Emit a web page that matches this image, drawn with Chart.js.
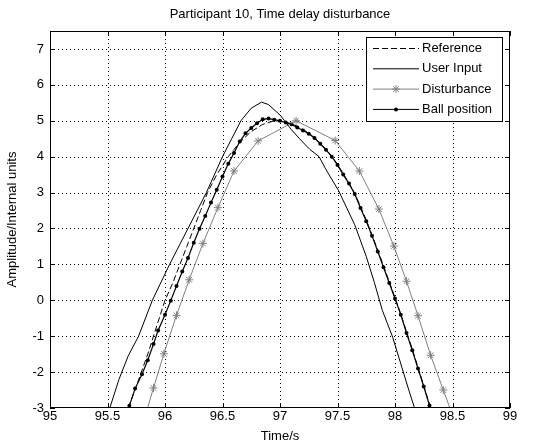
<!DOCTYPE html>
<html>
<head>
<meta charset="utf-8">
<script src="https://cdn.jsdelivr.net/npm/chart.js@4/dist/chart.umd.min.js"></script>
<style>
  html, body { margin: 0; padding: 0; background: #fff; }
  #wrap { width: 542px; height: 444px; }
</style>
</head>
<body>
<div id="wrap"><canvas id="chart" width="542" height="444"></canvas></div>
<script>
const xTicks = [95, 95.5, 96, 96.5, 97, 97.5, 98, 98.5, 99];
const yTicks = [-3, -2, -1, 0, 1, 2, 3, 4, 5, 6, 7];

const seriesNames = ['Reference', 'User Input', 'Disturbance', 'Ball position'];

const refTime = [95.68, 95.75, 95.85, 95.93, 96.0, 96.07, 96.13, 96.19, 96.25, 96.31, 96.37, 96.45, 96.55, 96.65, 96.75, 96.85, 96.95, 97.05, 97.15, 97.25, 97.35, 97.45, 97.55, 97.65, 97.75, 97.85, 97.95, 98.05, 98.15, 98.25, 98.31];
const refValue = [-3.0, -2.4, -1.5, -0.7, 0.0, 0.5, 1.0, 1.5, 2.0, 2.5, 3.0, 3.5, 4.0, 4.4, 4.7, 4.9, 5.0, 4.97, 4.85, 4.66, 4.38, 4.02, 3.53, 2.98, 2.24, 1.4, 0.52, -0.38, -1.36, -2.38, -3.0];

const userTime = [95.5, 95.6, 95.68, 95.77, 95.89, 96.04, 96.2, 96.36, 96.5, 96.58, 96.66, 96.75, 96.84, 96.9, 97.0, 97.04, 97.1, 97.17, 97.26, 97.34, 97.4, 97.51, 97.65, 97.75, 97.82, 97.89, 97.98, 98.06, 98.12, 98.19];
const userValue = [-3.2, -2.2, -1.55, -1.0, 0.0, 1.0, 2.0, 3.0, 4.0, 4.5, 5.0, 5.35, 5.52, 5.45, 5.16, 5.0, 4.75, 4.5, 4.2, 4.0, 3.64, 3.05, 2.1, 1.22, 0.5, -0.28, -1.03, -1.87, -2.5, -3.2];

const distTime = [95.83, 95.9, 95.99, 96.1, 96.21, 96.33, 96.46, 96.6, 96.81, 97.14, 97.48, 97.69, 97.86, 97.99, 98.1, 98.2, 98.31, 98.42, 98.5];
const distValue = [-3.2, -2.44, -1.49, -0.42, 0.57, 1.58, 2.58, 3.6, 4.44, 5.0, 4.45, 3.6, 2.54, 1.51, 0.53, -0.43, -1.53, -2.5, -3.2];

const ballTime = [95.66, 95.69, 95.74, 95.8, 95.85, 95.9, 95.94, 96.0, 96.05, 96.1, 96.15, 96.2, 96.25, 96.3, 96.35, 96.4, 96.45, 96.5, 96.55, 96.6, 96.65, 96.7, 96.75, 96.8, 96.85, 96.9, 96.95, 97.0, 97.05, 97.1, 97.15, 97.2, 97.25, 97.3, 97.35, 97.4, 97.45, 97.5, 97.55, 97.6, 97.65, 97.7, 97.75, 97.8, 97.85, 97.9, 97.95, 98.0, 98.05, 98.1, 98.15, 98.2, 98.25, 98.3, 98.33];
const ballValue = [-3.3, -2.94, -2.46, -2.06, -1.67, -1.22, -0.84, -0.4, -0.01, 0.4, 0.8, 1.18, 1.6, 1.99, 2.35, 2.72, 3.08, 3.45, 3.8, 4.1, 4.42, 4.65, 4.8, 4.93, 5.04, 5.06, 5.03, 5.0, 4.95, 4.9, 4.81, 4.73, 4.64, 4.52, 4.36, 4.19, 4.0, 3.77, 3.5, 3.25, 2.96, 2.57, 2.2, 1.8, 1.36, 0.92, 0.48, 0.05, -0.4, -0.91, -1.39, -1.9, -2.4, -2.93, -3.3];

const pairs = (xs, ys) => xs.map((x, i) => ({ x: x, y: ys[i] }));
const FAMILY = '"Liberation Sans", Arial, sans-serif';
const FONT = '13px ' + FAMILY;
const GRAY = '#808080';

// inner points only get markers, the end points just carry the line past the axis
const innerRadius = r => ctx => {
  const n = ctx.dataset.data.length;
  return (ctx.dataIndex === 0 || ctx.dataIndex === n - 1) ? 0 : r;
};

const frame = {
  id: 'frame',
  beforeDatasetsDraw(chart) {
    const { ctx, chartArea: a, scales: { x, y } } = chart;
    ctx.save();
    ctx.strokeStyle = '#000';
    ctx.lineWidth = 1;
    ctx.setLineDash([1, 3]);
    xTicks.slice(1, -1).forEach(v => {
      const px = Math.round(x.getPixelForValue(v)) + 0.5;
      ctx.beginPath(); ctx.moveTo(px, a.top); ctx.lineTo(px, a.bottom); ctx.stroke();
    });
    yTicks.slice(1).forEach(v => {
      const py = Math.round(y.getPixelForValue(v)) + 0.5;
      ctx.beginPath(); ctx.moveTo(a.left, py); ctx.lineTo(a.right, py); ctx.stroke();
    });
    ctx.restore();
  },
  afterDatasetsDraw(chart) {
    const { ctx, chartArea: a, scales: { x, y } } = chart;
    ctx.save();
    ctx.strokeStyle = '#000';
    ctx.lineWidth = 1;
    ctx.setLineDash([]);
    ctx.strokeRect(a.left + 0.5, a.top + 0.5, a.right - a.left - 1, a.bottom - a.top - 1);
    // inward ticks on all four sides
    const t = 5;
    ctx.beginPath();
    xTicks.forEach(v => {
      const px = Math.round(x.getPixelForValue(v)) + 0.5;
      ctx.moveTo(px, a.bottom); ctx.lineTo(px, a.bottom - t);
      ctx.moveTo(px, a.top); ctx.lineTo(px, a.top + t);
    });
    yTicks.forEach(v => {
      const py = Math.round(y.getPixelForValue(v)) + 0.5;
      ctx.moveTo(a.left, py); ctx.lineTo(a.left + t, py);
      ctx.moveTo(a.right, py); ctx.lineTo(a.right - t, py);
    });
    ctx.stroke();

    // title and axis labels
    ctx.fillStyle = '#000';
    ctx.font = FONT;
    ctx.textAlign = 'center';
    ctx.textBaseline = 'middle';
    ctx.fillText('Participant 10, Time delay disturbance', (a.left + a.right) / 2, 14);
    ctx.fillText('Time/s', (a.left + a.right) / 2, 436);
    ctx.save();
    ctx.translate(12, (a.top + a.bottom) / 2);
    ctx.rotate(-Math.PI / 2);
    ctx.fillText('Amplitude/Internal units', 0, 0);
    ctx.restore();

    // legend box in the top right corner
    const bx = 366, by = 37, bw = 136, bh = 84;
    ctx.fillStyle = '#fff';
    ctx.fillRect(bx, by, bw, bh);
    ctx.strokeRect(bx + 0.5, by + 0.5, bw, bh);
    chart.data.datasets.forEach((ds, i) => {
      const ry = by + 11.5 + i * 20.3;
      ctx.strokeStyle = ds.borderColor;
      ctx.lineWidth = 1;
      ctx.setLineDash(ds.borderDash || []);
      ctx.beginPath(); ctx.moveTo(373, ry); ctx.lineTo(419, ry); ctx.stroke();
      ctx.setLineDash([]);
      if (ds.label === 'Disturbance') {
        Chart.helpers.drawPoint(ctx, { pointStyle: 'star', radius: 4, borderWidth: 1 }, 396, ry);
      }
      if (ds.label === 'Ball position') {
        ctx.fillStyle = '#000';
        ctx.beginPath(); ctx.arc(396, ry, 2, 0, Math.PI * 2); ctx.fill();
      }
      ctx.fillStyle = '#000';
      ctx.textAlign = 'left';
      ctx.fillText(ds.label, 422, ry);
    });
    ctx.restore();
  }
};

const tickFont = { family: FAMILY, size: 13 };

new Chart(document.getElementById('chart'), {
  type: 'line',
  data: {
    datasets: [
      {
        label: seriesNames[0],
        data: pairs(refTime, refValue),
        borderColor: '#000',
        borderWidth: 1,
        borderDash: [6, 3],
        pointRadius: 0
      },
      {
        label: seriesNames[1],
        data: pairs(userTime, userValue),
        borderColor: '#000',
        borderWidth: 1,
        pointRadius: 0
      },
      {
        label: seriesNames[2],
        data: pairs(distTime, distValue),
        borderColor: GRAY,
        borderWidth: 1,
        pointStyle: 'star',
        pointRadius: innerRadius(4),
        pointBorderColor: GRAY,
        pointBorderWidth: 1
      },
      {
        label: seriesNames[3],
        data: pairs(ballTime, ballValue),
        borderColor: '#000',
        borderWidth: 1.2,
        pointStyle: 'circle',
        pointRadius: innerRadius(2),
        pointBackgroundColor: '#000',
        pointBorderColor: '#000',
        pointBorderWidth: 0
      }
    ]
  },
  options: {
    responsive: false,
    animation: false,
    events: [],
    layout: { padding: { top: 31, right: 32, bottom: 0, left: 0 } },
    elements: { line: { tension: 0 } },
    plugins: { legend: { display: false }, tooltip: { enabled: false }, title: { display: false } },
    scales: {
      x: {
        type: 'linear',
        min: 95, max: 99,
        afterFit: s => { s.height = 36; },
        afterBuildTicks: s => { s.ticks = xTicks.map(v => ({ value: v })); },
        grid: { display: false, drawTicks: false, tickLength: 0 },
        border: { display: false },
        ticks: { color: '#000', font: tickFont, padding: 1, maxRotation: 0, autoSkip: false, callback: v => String(v) }
      },
      y: {
        type: 'linear',
        min: -3, max: 7.5,
        afterFit: s => { s.width = 50; },
        afterBuildTicks: s => { s.ticks = yTicks.map(v => ({ value: v })); },
        grid: { display: false, drawTicks: false, tickLength: 0 },
        border: { display: false },
        ticks: { color: '#000', font: tickFont, padding: 6, autoSkip: false, callback: v => String(v) }
      }
    }
  },
  plugins: [frame]
});
</script>
</body>
</html>
